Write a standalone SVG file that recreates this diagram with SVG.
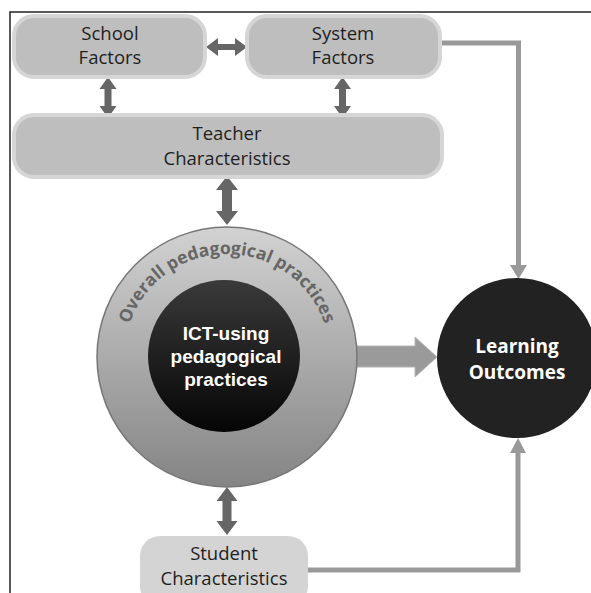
<svg xmlns="http://www.w3.org/2000/svg" width="591" height="593" viewBox="0 0 591 593">
<defs>
<style>
.box{fill:#bebebe;stroke:#d6d6d6;stroke-width:4}
.lbl{font-family:"Open Sans","Liberation Sans",sans-serif;font-size:18.5px;fill:#1e1e1e;text-anchor:middle}
.wht{font-family:"Open Sans","Liberation Sans",sans-serif;font-weight:bold;fill:#fff;text-anchor:middle}
.ict{font-family:"Liberation Sans","Open Sans",sans-serif;font-weight:bold;font-size:19px;fill:#fff;text-anchor:middle}
.dark{fill:#666}
.line{fill:none;stroke:#999;stroke-width:5}
</style>
<linearGradient id="gOuter" x1="0" y1="0" x2="0" y2="1">
<stop offset="0" stop-color="#d2d2d2"/>
<stop offset="1" stop-color="#848484"/>
</linearGradient>
<linearGradient id="gInner" x1="0" y1="0" x2="0" y2="1">
<stop offset="0" stop-color="#3a3a3a"/>
<stop offset="1" stop-color="#050505"/>
</linearGradient>
<path id="arcText" d="M 124 357 A 103 103 0 0 1 330 357"/>
</defs>
<rect width="591" height="593" fill="#fff"/>
<path d="M 10 593 L 10 12 L 591 12" fill="none" stroke="#222" stroke-width="1.5"/>

<g id="connectors">
<path class="line" d="M 441 43 L 518.5 43 L 518.5 266"/>
<polygon fill="#999" points="510,265 527,265 518.5,279"/>
<path class="line" d="M 308 570 L 518 570 L 518 452"/>
<polygon fill="#999" points="510,453 526,453 518,438"/>
<polygon class="dark" points="206,47 218,38 218,44 235,44 235,38 247,47 235,56 235,50 218,50 218,56"/>
<polygon class="dark" points="108,77 116.5,89 111.5,89 111.5,106 116.5,106 108,118 99.5,106 104.5,106 104.5,89 99.5,89"/>
<polygon class="dark" points="342.5,77 351,89 346,89 346,106 351,106 342.5,118 334,106 339,106 339,89 334,89"/>
<polygon class="dark" points="227,176 238,190 232,190 232,211 238,211 227,225 216,211 222,211 222,190 216,190"/>
<polygon class="dark" points="227,487 237.5,501 231.5,501 231.5,521 237.5,521 227,535 216.5,521 222.5,521 222.5,501 216.5,501"/>
<polygon fill="#9a9a9a" stroke="#b5b5b5" stroke-width="1" points="352,346 415,346 415,337 437,357 415,377 415,367 352,367"/>
</g>

<g id="school">
<rect class="box" x="14" y="16" width="191" height="61" rx="20"/>
<text class="lbl" x="110" y="40">School</text>
<text class="lbl" x="110" y="64">Factors</text>
</g>
<g id="system">
<rect class="box" x="247" y="16" width="193" height="61" rx="20"/>
<text class="lbl" x="343" y="40">System</text>
<text class="lbl" x="343" y="64">Factors</text>
</g>
<g id="teacher">
<rect class="box" x="14" y="115" width="428" height="62" rx="20"/>
<text class="lbl" x="227" y="140">Teacher</text>
<text class="lbl" x="227" y="165">Characteristics</text>
</g>
<g id="overall">
<circle cx="227" cy="357" r="130" fill="url(#gOuter)" stroke="#777" stroke-width="1.5"/>
<text font-family="'Open Sans','Liberation Sans',sans-serif" font-weight="bold" font-size="17.5" fill="#666" text-anchor="middle"><textPath href="#arcText" startOffset="50%">Overall pedagogical practices</textPath></text>
</g>
<g id="ict">
<circle cx="224" cy="356" r="76" fill="url(#gInner)"/>
<text class="ict" x="226" y="340">ICT-using</text>
<text class="ict" x="226" y="363">pedagogical</text>
<text class="ict" x="226" y="386">practices</text>
</g>
<g id="learning">
<circle cx="517" cy="358" r="80" fill="#222"/>
<text class="wht" x="517" y="353" font-size="19">Learning</text>
<text class="wht" x="517" y="379" font-size="19">Outcomes</text>
</g>
<g id="student">
<rect x="140" y="536" width="168" height="70" rx="20" fill="#d4d4d4"/>
<text class="lbl" x="224" y="560">Student</text>
<text class="lbl" x="224" y="585">Characteristics</text>
</g>
</svg>
